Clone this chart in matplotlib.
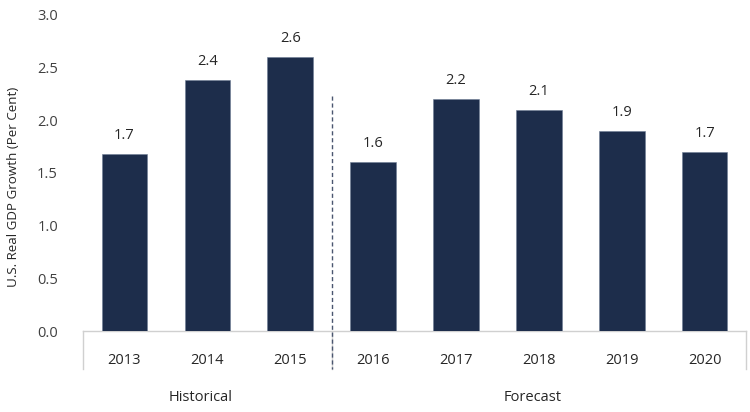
import matplotlib
matplotlib.use("Agg")
import matplotlib.pyplot as plt
import numpy as np

# data
years = ["2013", "2014", "2015", "2016", "2017", "2018", "2019", "2020"]
growth = [1.68, 2.38, 2.60, 1.60, 2.20, 2.10, 1.90, 1.70]
groups = ["Historical", "Forecast"]
group_sizes = [3, 5]

plt.rcParams['font.family'] = ['Open Sans', 'DejaVu Sans']

fig = plt.figure(figsize=(7.5, 4.12), dpi=100)
ax = fig.add_axes([0.1107, 0.1966, 0.884, 0.767])

x = np.arange(len(years))
bars = ax.bar(x, growth, width=0.55, color='#1d2d4b', edgecolor='#6d7c94', linewidth=0.4, zorder=3)

for xi, v in zip(x, growth):
    ax.annotate(f"{v:.1f}", (xi, v), xytext=(0, 8), textcoords='offset points',
                ha='center', va='bottom', fontsize=10.5, color='#262626')

ax.set_xlim(-0.5, len(years) - 0.5)
ax.set_ylim(0, 3.0)
ax.set_yticks(np.arange(0, 3.01, 0.5))
ax.set_yticklabels([f"{t:.1f}" for t in np.arange(0, 3.01, 0.5)])
ax.set_xticks(x)
ax.set_xticklabels(years)
ax.tick_params(axis='y', length=0, pad=18, labelsize=10.5, labelcolor='#404040')
ax.tick_params(axis='x', length=0, pad=16, labelsize=10.5, labelcolor='#262626')

for s in ['top', 'right', 'left']:
    ax.spines[s].set_visible(False)
ax.spines['bottom'].set_color('#d0d0d0')
ax.spines['bottom'].set_linewidth(1.0)

ax.set_ylabel("U.S. Real GDP Growth (Per Cent)", fontsize=9.6, color='#262626')
ax.yaxis.set_label_coords(-0.095, 0.455)

# group boxes under the category axis
trans = ax.get_xaxis_transform()
bounds = np.concatenate([[0], np.cumsum(group_sizes)]) - 0.5
for b in bounds:
    ax.plot([b, b], [0, -0.12], transform=trans, color='#d0d0d0', lw=1.0, clip_on=False)
split = bounds[1]
ax.plot([split, split], [2.23 / 3.0, -0.12], transform=trans, color='#4a5670',
        lw=1.0, ls=(0, (3, 2)), clip_on=False, zorder=4)

for g, lo, hi in zip(groups, bounds[:-1], bounds[1:]):
    ax.text((lo + hi) / 2 - 0.08, -0.21, g, transform=trans, ha='center', va='center',
            fontsize=10.5, color='#262626')

fig.savefig("out.png", dpi=100)
